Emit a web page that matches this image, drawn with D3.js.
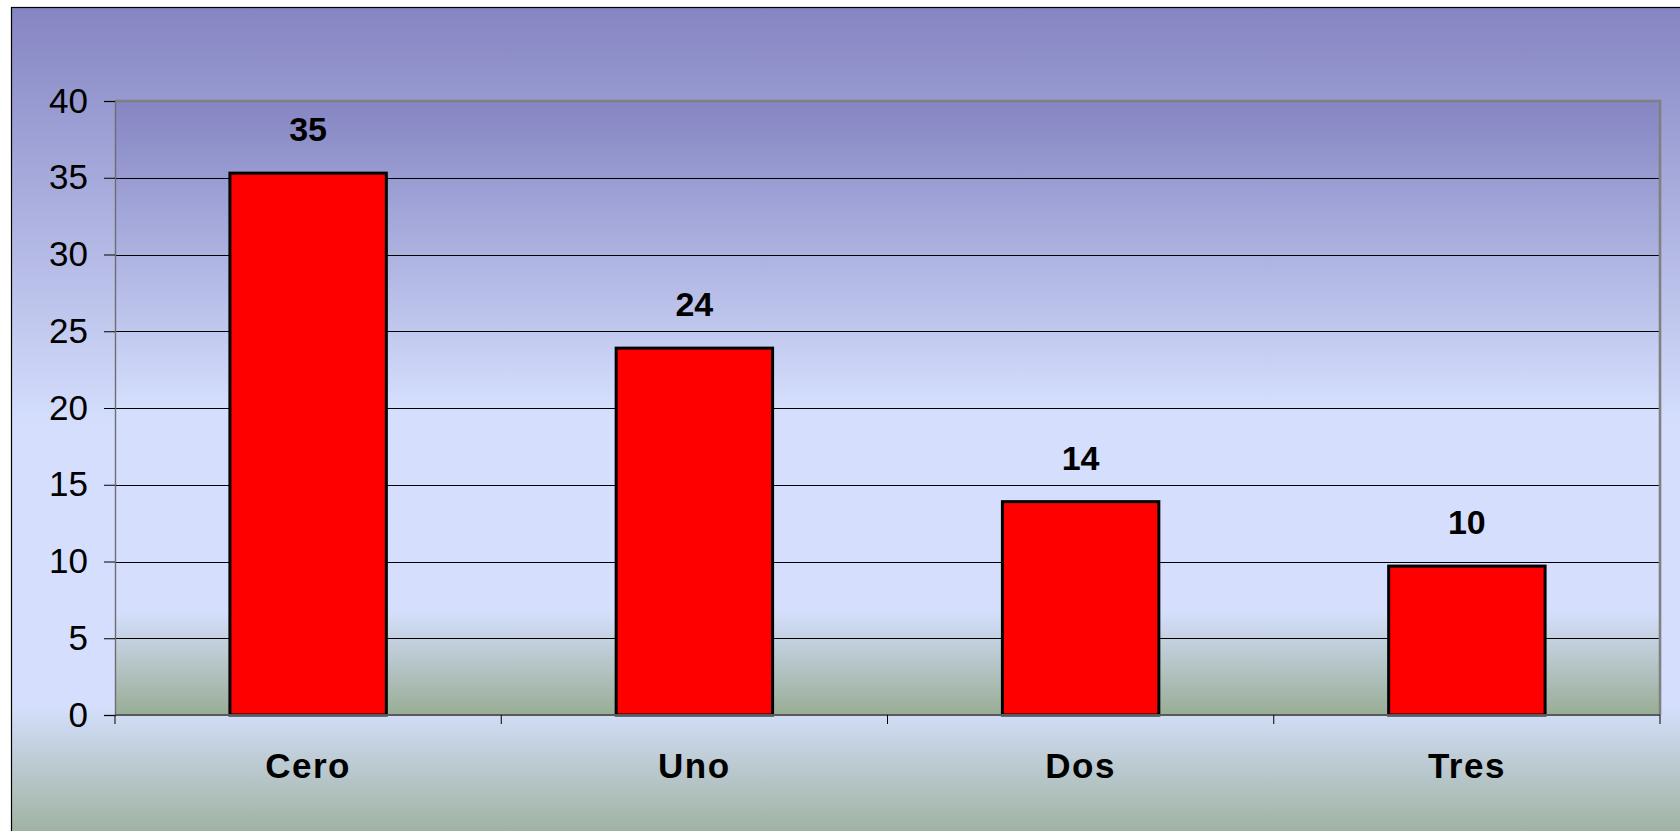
<!DOCTYPE html>
<html>
<head>
<meta charset="utf-8">
<script src="https://cdn.jsdelivr.net/npm/d3@7"></script>
<style>
  html, body { margin: 0; padding: 0; background: #ffffff; }
  svg { display: block; }
  text { font-family: "Liberation Sans", Arial, sans-serif; }
</style>
</head>
<body>
<svg id="chart" width="1680" height="831"></svg>
<script>
// ---- data ----
const categories = ["Cero", "Uno", "Dos", "Tres"];
const values = [35.3, 23.9, 13.9, 9.7];
const yTicks = [0, 5, 10, 15, 20, 25, 30, 35, 40];

// ---- layout ----
const W = 1680, H = 831;
const plot = { left: 115, right: 1660, top: 101, bottom: 715 };

const svg = d3.select("#chart");
const defs = svg.append("defs");

function makeGrad(id) {
  const g = defs.append("linearGradient").attr("id", id)
    .attr("x1", 0).attr("y1", 0).attr("x2", 0).attr("y2", 1);
  [[0, "#8585c3"], [0.5, "#d5dffd"], [0.83, "#d5dffd"], [1, "#98ad95"]]
    .forEach(([o, c]) => g.append("stop").attr("offset", o).attr("stop-color", c));
}
makeGrad("outerGrad");
makeGrad("plotGrad");

// outer chart area
svg.append("rect")
  .attr("x", 11.5).attr("y", 7.5)
  .attr("width", W + 10).attr("height", H + 10)
  .attr("fill", "url(#outerGrad)")
  .attr("stroke", "#000").attr("stroke-width", 1.2);

// plot area
svg.append("rect")
  .attr("x", plot.left).attr("y", plot.top)
  .attr("width", plot.right - plot.left).attr("height", plot.bottom - plot.top)
  .attr("fill", "url(#plotGrad)");

const x = d3.scaleBand().domain(categories)
  .range([plot.left, plot.right])
  .paddingInner(0.595).paddingOuter(0.2975);
const y = d3.scaleLinear().domain([0, 40]).range([plot.bottom, plot.top]);

// gridlines
svg.append("g").selectAll("line")
  .data(yTicks.filter(t => t > 0 && t < 40))
  .join("line")
  .attr("x1", plot.left).attr("x2", plot.right)
  .attr("y1", d => Math.round(y(d)) + 0.5).attr("y2", d => Math.round(y(d)) + 0.5)
  .attr("stroke", "#000").attr("stroke-width", 1);

// plot border (top + right)
svg.append("path")
  .attr("d", `M${plot.left},${plot.top} H${plot.right} V${plot.bottom}`)
  .attr("fill", "none").attr("stroke", "#808080").attr("stroke-width", 2.6);

// bars
svg.append("g").selectAll("rect")
  .data(categories.map((c, i) => ({ c, v: values[i] })))
  .join("rect")
  .attr("x", d => x(d.c))
  .attr("y", d => y(d.v))
  .attr("width", x.bandwidth())
  .attr("height", d => y(0) - y(d.v))
  .attr("fill", "#ff0000")
  .attr("stroke", "#000").attr("stroke-width", 3);

// value labels
const fmt = d3.format(".0f");
svg.append("g").selectAll("text")
  .data(categories.map((c, i) => ({ c, v: values[i] })))
  .join("text")
  .attr("x", d => x(d.c) + x.bandwidth() / 2)
  .attr("y", d => y(d.v) - 32)
  .attr("text-anchor", "middle")
  .attr("font-size", 34).attr("font-weight", "bold").attr("fill", "#000")
  .text(d => fmt(d.v));

// y axis
const yAxis = svg.append("g")
  .attr("transform", `translate(${plot.left},0)`)
  .call(d3.axisLeft(y).tickValues(yTicks).tickSize(11).tickPadding(16).tickFormat(d3.format("d")));
yAxis.select(".domain").attr("stroke", "#6e6e6e").attr("stroke-width", 1.4);
yAxis.selectAll(".tick line").attr("stroke", "#000").attr("stroke-width", 1);
yAxis.selectAll(".tick text")
  .attr("font-size", 35).attr("fill", "#000")
  .attr("font-family", "'Liberation Sans', Arial, sans-serif");

// x axis line
svg.append("line")
  .attr("x1", plot.left).attr("x2", plot.right)
  .attr("y1", plot.bottom).attr("y2", plot.bottom)
  .attr("stroke", "#5a5a5a").attr("stroke-width", 2);

// x tick marks at category boundaries
const step = x.step();
const boundaries = categories.map(c => x(c) - step * x.paddingInner() / 2)
  .concat([x(categories[categories.length - 1]) + x.bandwidth() + step * x.paddingInner() / 2]);
svg.append("g").selectAll("line")
  .data(boundaries)
  .join("line")
  .attr("x1", d => d).attr("x2", d => d)
  .attr("y1", plot.bottom).attr("y2", plot.bottom + 9)
  .attr("stroke", "#000").attr("stroke-width", 1);

// category labels
svg.append("g").selectAll("text")
  .data(categories)
  .join("text")
  .attr("x", d => x(d) + x.bandwidth() / 2)
  .attr("y", 778)
  .attr("text-anchor", "middle")
  .attr("font-size", 35).attr("font-weight", "bold")
  .attr("letter-spacing", 1.5).attr("fill", "#000")
  .text(d => d);
</script>
</body>
</html>
